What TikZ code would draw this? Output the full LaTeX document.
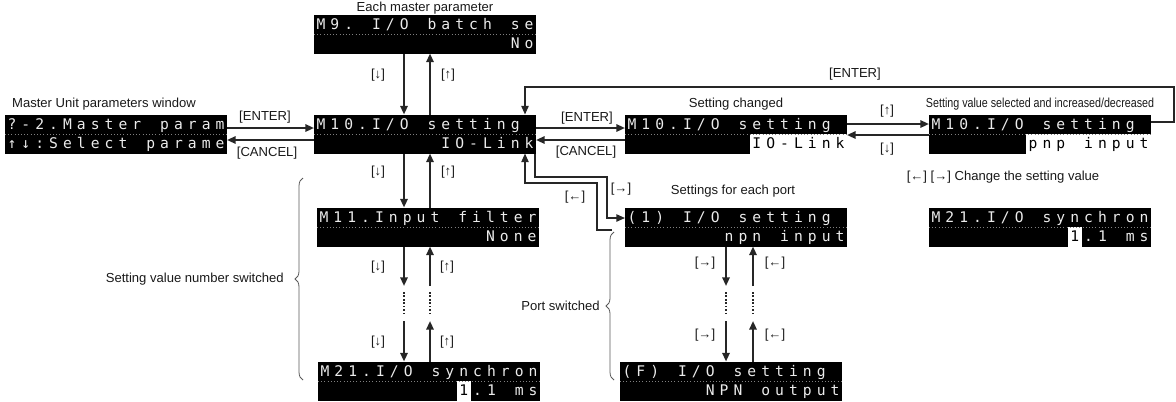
\documentclass[tikz,border=0pt]{standalone}
\usepackage{fontspec}
\usepackage{graphicx}
\setmainfont{Liberation Sans}
\newfontfamily\lcdfont{DejaVu Sans Mono}
\usetikzlibrary{arrows.meta,decorations.pathreplacing,calc}
\newlength\lcdw \setlength\lcdw{10.406pt}
\newlength\lcdW \setlength\lcdW{166.5pt}
\newcommand\lcdcell[1]{\makebox[\lcdw][c]{\rule[-3.5pt]{0pt}{14.625pt}#1}}
\ExplSyntaxOn
\NewDocumentCommand\lcds{m}{\tl_map_inline:nn{#1}{\lcdcell{##1}}}
\ExplSyntaxOff
\newcommand\lcdhl[1]{{\fboxsep0pt\colorbox{white}{\color{black}\lcds{#1}}}}
\newcommand\lcdbox[2]{\vbox{\offinterlineskip\hbox to\lcdW{\lcds{#1}\hfil}\hbox to\lcdW{\hfil#2}}}
\begin{document}
\begin{tikzpicture}[x=0.75pt,y=-0.75pt,
  lcd/.style={fill=black, inner sep=0pt, outer sep=0pt, text=white!92!black, font=\lcdfont\fontsize{11pt}{11pt}\selectfont},
  lbl/.style={font=\fontsize{9.8pt}{11pt}\selectfont, inner sep=0pt, text=black!90},
  arr/.style={line width=1.5pt, draw=black!85, -{Triangle[length=6.5pt,width=5.5pt]}},
  route/.style={line width=1.1pt, draw=black!85, -{Triangle[length=6.5pt,width=5.5pt]}},
  dots/.style={line width=1.6pt, draw=black!85, dash pattern=on 1.2pt off 1.4pt},
  brc/.style={decorate, decoration={brace, amplitude=6pt}, draw=gray!70!black, line width=0.6pt},
  rowsep/.style={draw=gray, line width=0.4pt, dotted}]
\useasboundingbox (0,0) rectangle (1176,401);

% LCD boxes
\node[lcd] (b1) at (116,134) {\lcdbox{?-2.Master~param}{\lcds{↑↓:Select~parame}}};
\node[lcd] (m9) at (425,34) {\lcdbox{M9.~I/O~batch~se}{\lcds{No}}};
\node[lcd] (m10) at (425,134) {\lcdbox{M10.I/O~setting}{\lcds{IO-Link}}};
\node[lcd] (chg) at (736,134) {\lcdbox{M10.I/O~setting}{\lcdhl{IO-Link}}};
\node[lcd] (pnp) at (1040,134) {\lcdbox{M10.I/O~setting}{\lcdhl{pnp~input}}};
\node[lcd] (m11) at (428,227) {\lcdbox{M11.Input~filter}{\lcds{None}}};
\node[lcd] (m21) at (429,381) {\lcdbox{M21.I/O~synchron}{\lcdhl{1}\lcds{.1~ms}}};
\node[lcd] (p1) at (736,227) {\lcdbox{(1)~I/O~setting}{\lcds{npn~input}}};
\node[lcd] (pF) at (731,381) {\lcdbox{(F)~I/O~setting}{\lcds{NPN~output}}};
\node[lcd] (m21r) at (1040,227) {\lcdbox{M21.I/O~synchron}{\lcdhl{1}\lcds{.1~ms}}};
\foreach \n in {b1,m9,m10,chg,pnp,m11,m21,p1,pF,m21r}{\draw[rowsep] (\n.west) -- (\n.east);}

% labels
\node[lbl] (t1) at (104,104) {Master Unit parameters window};
\node[lbl] (t2) at (265,117) {[ENTER]};
\node[lbl] (t3) at (267,153) {[CANCEL]};
\node[lbl] (t4) at (425,8) {Each master parameter};
\node[lbl] (t5) at (378,75) {[↓]};
\node[lbl] (t6) at (448,75) {[↑]};
\node[lbl] (t7) at (587,118) {[ENTER]};
\node[lbl] (t8) at (586,152) {[CANCEL]};
\node[lbl] (t9) at (855,74) {[ENTER]};
\node[lbl] (t10) at (736,104) {Setting changed};
\node[lbl] (t11) at (887,111) {[↑]};
\node[lbl] (t12) at (887,149) {[↓]};
\node[lbl] (t13) at (1040,104) {\scalebox{0.82}[1]{Setting value selected and increased/decreased}};
\node[lbl] (t14) at (1003,177) {[←] [→] Change the setting value};
\node[lbl] (t15) at (621,189) {[→]};
\node[lbl] (t16) at (575,197) {[←]};
\node[lbl] (t17) at (733,191) {Settings for each port};
\node[lbl] (t18) at (378,172) {[↓]};
\node[lbl] (t19) at (448,172) {[↑]};
\node[lbl] (t20) at (378,267) {[↓]};
\node[lbl] (t21) at (447,267) {[↑]};
\node[lbl] (t22) at (378,342) {[↓]};
\node[lbl] (t23) at (447,342) {[↑]};
\node[lbl] (t24) at (705,263) {[→]};
\node[lbl] (t25) at (775,263) {[←]};
\node[lbl] (t26) at (705,335) {[→]};
\node[lbl] (t27) at (775,335) {[←]};
\node[lbl, anchor=east] (t28) at (284,279) {Setting value number switched};
\node[lbl, anchor=east] (t29) at (600,306) {Port switched};

% helper coordinates
\coordinate (cA) at (404,0); \coordinate (cB) at (430,0);
\coordinate (cC) at (726,0); \coordinate (cD) at (753,0);
\coordinate (gT) at (0,286); \coordinate (dT) at (0,292);
\coordinate (dE) at (0,313); \coordinate (gB) at (0,321);

% vertical columns
\draw[arr] (m9.south -| cA) -- (m10.north -| cA);
\draw[arr] (m10.north -| cB) -- (m9.south -| cB);
\draw[arr] (m10.south -| cA) -- (m11.north -| cA);
\draw[arr] (m11.north -| cB) -- (m10.south -| cB);
\draw[arr] (m11.south -| cA) -- (cA |- gT);
\draw[dots] (cA |- dT) -- (cA |- dE);
\draw[arr] (cA |- gB) -- (m21.north -| cA);
\draw[arr] (cB |- gT) -- (m11.south -| cB);
\draw[dots] (cB |- dT) -- (cB |- dE);
\draw[arr] (m21.north -| cB) -- (cB |- gB);

\draw[arr] (p1.south -| cC) -- (cC |- gT);
\draw[dots] (cC |- dT) -- (cC |- dE);
\draw[arr] (cC |- gB) -- (pF.north -| cC);
\draw[arr] (cD |- gT) -- (p1.south -| cD);
\draw[dots] (cD |- dT) -- (cD |- dE);
\draw[arr] (pF.north -| cD) -- (cD |- gB);

% horizontal pairs
\draw[arr] ([yshift=4.5pt]b1.east) -- ([yshift=4.5pt]m10.west);
\draw[arr] ([yshift=-4.5pt]m10.west) -- ([yshift=-4.5pt]b1.east);
\draw[arr] ([yshift=4.5pt]m10.east) -- ([yshift=4.5pt]chg.west);
\draw[arr] ([yshift=-4.5pt]chg.west) -- ([yshift=-4.5pt]m10.east);
\draw[arr] ([yshift=7.5pt]chg.east) -- ([yshift=7.5pt]pnp.west);
\draw[arr] ([yshift=-0.75pt]pnp.west) -- ([yshift=-0.75pt]chg.east);

% loop back
\coordinate (lR) at (1174,87); \coordinate (lL) at (525,87);
\draw[route] ([yshift=9pt]pnp.east) -| (lR) -| (lL |- m10.north);

% port branch
\coordinate (r1) at (607,177);
\draw[route] ([xshift=-0.75pt]m10.south east) |- (r1) |- ([yshift=6.75pt]p1.west);
\coordinate (s0) at (612,230); \coordinate (s1) at (597,183); \coordinate (s2) at (525,0);
\draw[route] (s0) -| (s1) -| (s2 |- m10.south);

% braces
\draw[brc] (303,380) -- (303,178);
\draw[brc] (614,380) -- (614,232);
\end{tikzpicture}
\end{document}
